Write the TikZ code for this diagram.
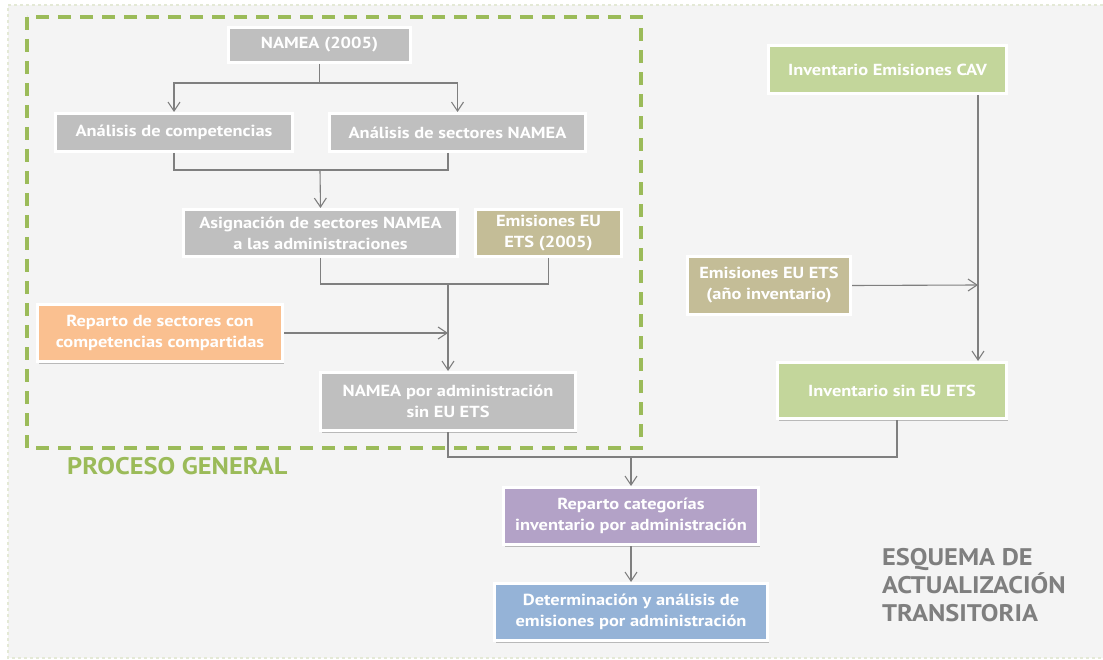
\documentclass[tikz,border=0pt]{standalone}
\usepackage{fontspec}
\setmainfont{PT Sans}
\newfontfamily\cajafont{PT Sans}[FakeStretch=1.15]
\newfontfamily\titfont{PT Sans}[FakeStretch=1.1]
\usetikzlibrary{arrows.meta,shadows}
\definecolor{fondo}{HTML}{F4F4F4}
\definecolor{borde}{HTML}{E4E9D6}
\definecolor{verde}{HTML}{9BBB59}
\definecolor{conector}{HTML}{7F7F7F}
\definecolor{grisc}{HTML}{BFBFBF}
\definecolor{tostado}{HTML}{C4BD97}
\definecolor{verdec}{HTML}{C3D69B}
\definecolor{naranja}{HTML}{FAC090}
\definecolor{lila}{HTML}{B3A2C7}
\definecolor{azul}{HTML}{95B3D7}
\definecolor{gristxt}{HTML}{7F7F7F}
\begin{document}
\begin{tikzpicture}[x=1pt, y=-1pt,
    caja/.style={draw=white, line width=3pt, text=white, align=center, inner sep=2pt,
        font=\cajafont\bfseries\fontsize{16}{21}\selectfont,
        drop shadow={shadow xshift=1.5pt, shadow yshift=-2pt, opacity=.35, fill=black!70}},
    enlace/.style={draw=conector, line width=1.1pt},
    flecha/.style={enlace, -{Straight Barb[length=9pt, width=12pt, line width=1.1pt]}},
    titulo/.style={inner sep=0pt, font=\titfont\bfseries\fontsize{24}{28}\selectfont}]
\useasboundingbox (0,0) rectangle (1103,660);
\fill[fondo] (8,5) rectangle (1103,658);
\draw[borde, line width=2.5pt, dash pattern=on 3pt off 3pt] (1103,5)--(8,5)--(8,658)--(1103,658);

% proceso general
\draw[verde, line width=3.5pt, dash pattern=on 13pt off 9pt] (27,17) rectangle (641,448);
\node[caja, fill=grisc, minimum width=182pt, minimum height=35pt] (namea) at (319.5,45) {NAMEA (2005)};
\node[caja, fill=grisc, minimum width=237pt, minimum height=38pt] (compet) at (174,132.5) {Análisis de competencias};
\node[caja, fill=grisc, minimum width=256pt, minimum height=38pt] (sectores) at (457.5,132.5) {Análisis de sectores  NAMEA};
\node[caja, fill=grisc, minimum width=274pt, minimum height=47pt] (asign) at (320.5,233) {Asignación de sectores  NAMEA\\a las administraciones};
\node[caja, fill=tostado, minimum width=146pt, minimum height=47pt] (ets05) at (548.5,233) {Emisiones EU\\ETS (2005)};
\node[caja, fill=naranja, minimum width=245pt, minimum height=57pt] (repsec) at (160,333) {Reparto de sectores  con\\competencias  compartidas};
\node[caja, fill=grisc, minimum width=255pt, minimum height=58pt] (nameaadm) at (448,401.5) {NAMEA por administración\\sin EU ETS};
\node[titulo, text=verde, anchor=west] (proceso) at (67,466) {PROCESO GENERAL};

% inventario
\node[caja, fill=verdec, minimum width=238pt, minimum height=48pt] (cav) at (887.5,69.5) {Inventario Emisiones  CAV};
\node[caja, fill=tostado, minimum width=163pt, minimum height=58pt] (etsinv) at (769,285.5) {Emisiones EU ETS\\(año inventario)};
\node[caja, fill=verdec, minimum width=229pt, minimum height=56pt] (invsin) at (892,390.5) {Inventario sin EU ETS};
\node[caja, fill=lila, minimum width=255pt, minimum height=57pt] (repcat) at (631,516) {Reparto categorías\\inventario por administración};
\node[caja, fill=azul, minimum width=273pt, minimum height=57pt] (determ) at (631,612) {Determinación  y análisis de\\emisiones por administración};
\node[titulo, text=gristxt, anchor=north west, align=left] (esquema) at (882,548) {ESQUEMA DE\\ACTUALIZACIÓN\\TRANSITORIA};

\coordinate (j1) at (320,170);
\coordinate (j2) at (448,284);
\coordinate (j3) at (631,457);
\coordinate (j4) at (978,285);

\draw[flecha] (namea.south) -- ++(0,19) -| (compet.north);
\draw[flecha] (namea.south) -- ++(0,19) -| (sectores.north);
\draw[enlace] (compet.south) |- (j1);
\draw[enlace] ([xshift=-9.5pt]sectores.south) |- (j1);
\draw[flecha] (j1) -- (asign.north);
\draw[enlace] (asign.south) |- (j2);
\draw[enlace] (ets05.south) |- (j2);
\draw[flecha] (j2) -- (nameaadm.north);
\draw[flecha] (repsec.east) -- (repsec.east -| j2);
\draw[enlace] (nameaadm.south) |- (j3);
\draw[enlace] ([xshift=5pt]invsin.south) |- (j3);
\draw[flecha] (j3) -- (repcat.north);
\draw[flecha] (repcat.south) -- (determ.north);
\draw[flecha] (cav.south -| j4) -- (invsin.north -| j4);
\draw[flecha] (etsinv.east) -- (j4);
\end{tikzpicture}
\end{document}
